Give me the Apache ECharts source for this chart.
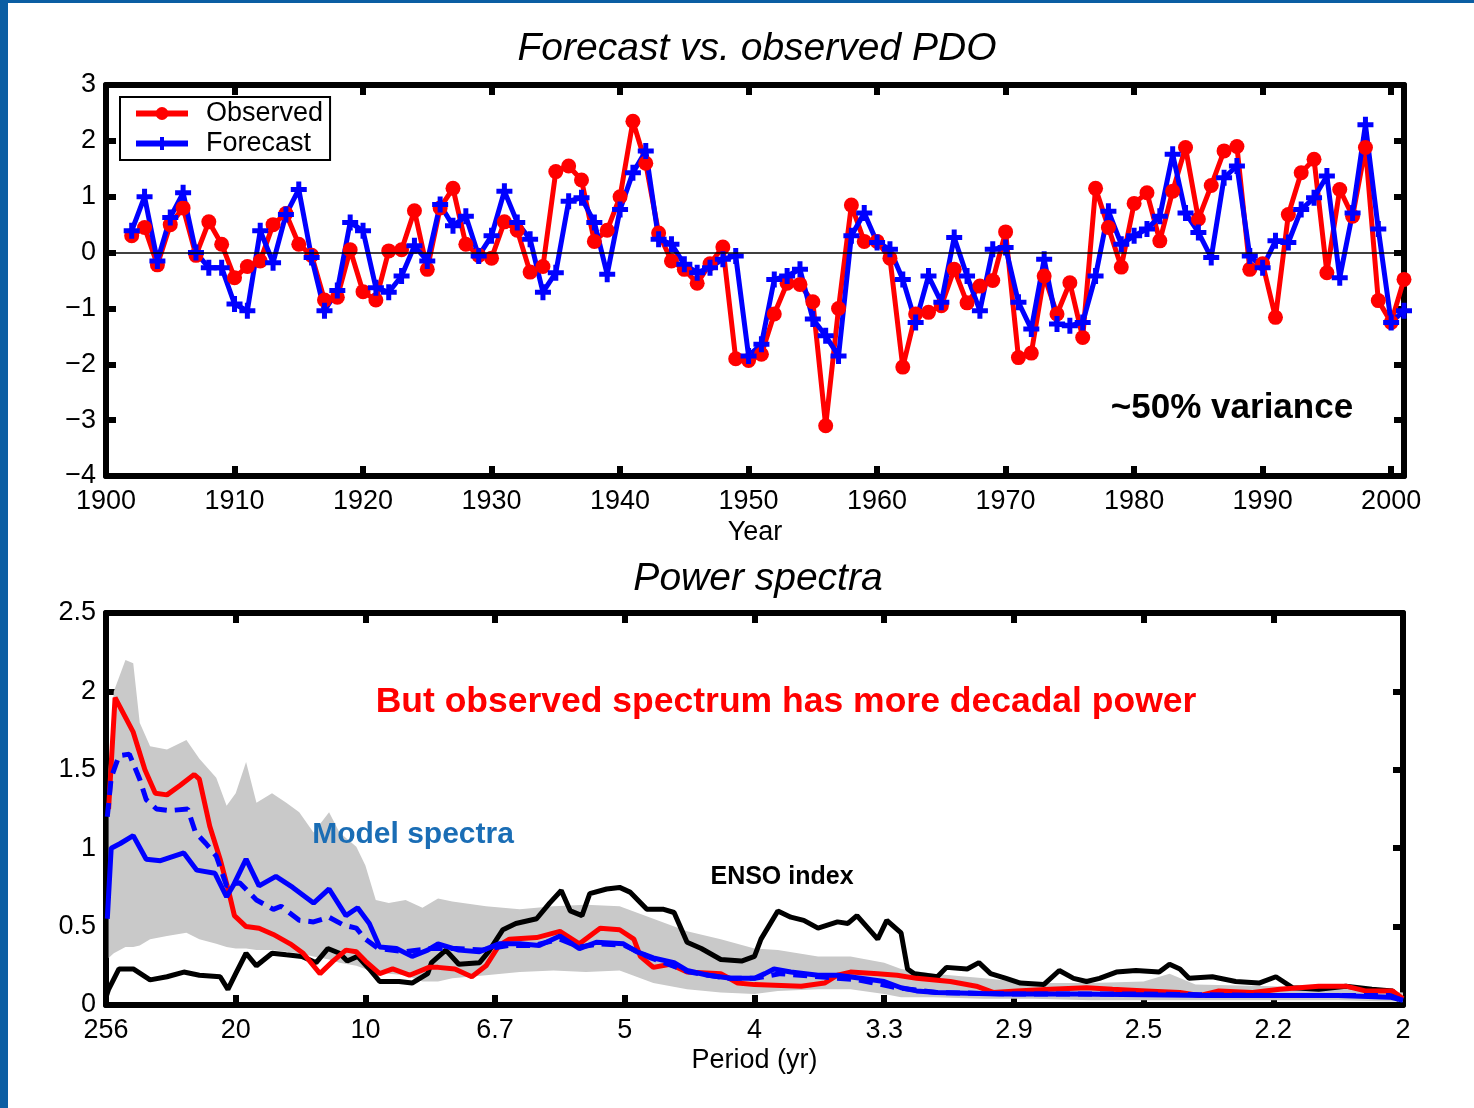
<!DOCTYPE html>
<html>
<head>
<meta charset="utf-8">
<script src="https://cdn.jsdelivr.net/npm/echarts@6/dist/echarts.min.js"></script>
<style>
html,body{margin:0;padding:0;background:#fff}
#main{width:1474px;height:1108px}
</style>
</head>
<body>
<div id="main"></div>
<script>
// ---- top panel: PDO index, 1902-2001 ----
var firstYear = 1902;
var observed = [0.30,0.45,-0.22,0.50,0.80,-0.05,0.55,0.15,-0.45,-0.25,
  -0.15,0.50,0.70,0.15,-0.05,-0.85,-0.80,0.05,-0.70,-0.85,
  0.03,0.05,0.75,-0.30,0.80,1.15,0.15,-0.05,-0.10,0.55,
  0.40,-0.35,-0.25,1.45,1.55,1.30,0.20,0.40,1.00,2.35,
  1.60,0.35,-0.15,-0.30,-0.55,-0.20,0.10,-1.90,-1.93,-1.82,
  -1.10,-0.55,-0.57,-0.88,-3.10,-1.00,0.85,0.20,0.20,-0.10,
  -2.05,-1.10,-1.07,-0.95,-0.30,-0.90,-0.60,-0.50,0.37,-1.88,
  -1.80,-0.42,-1.10,-0.54,-1.52,1.15,0.45,-0.26,0.88,1.07,
  0.21,1.10,1.88,0.60,1.20,1.82,1.90,-0.30,-0.20,-1.16,
  0.68,1.43,1.67,-0.36,1.13,0.65,1.88,-0.86,-1.25,-0.48];
var forecast = [0.39,1.00,-0.15,0.63,1.07,0.00,-0.27,-0.27,-0.92,-1.04,
  0.39,-0.18,0.68,1.13,-0.09,-1.04,-0.68,0.54,0.39,-0.63,
  -0.71,-0.42,0.12,-0.15,0.86,0.48,0.65,-0.06,0.30,1.10,
  0.54,0.24,-0.71,-0.36,0.92,0.98,0.54,-0.39,0.77,1.43,
  1.82,0.24,0.15,-0.21,-0.36,-0.27,-0.12,-0.06,-1.85,-1.64,
  -0.48,-0.42,-0.30,-1.19,-1.49,-1.85,0.30,0.71,0.18,0.06,
  -0.48,-1.25,-0.42,-0.89,0.27,-0.42,-1.04,0.06,0.09,-0.89,
  -1.37,-0.12,-1.28,-1.31,-1.25,-0.42,0.74,0.15,0.30,0.42,
  0.65,1.76,0.71,0.36,-0.09,1.34,1.55,-0.06,-0.27,0.21,
  0.18,0.77,0.98,1.37,-0.45,0.71,2.29,0.42,-1.25,-1.04];

// ---- bottom panel: power spectra, x in steps of 0.05 cycles/yr ----
var periodLabels = ['256','20','10','6.7','5','4','3.3','2.9','2.5','2.2','2'];

var specObserved = [[0.02,1.25],[0.07,1.96],[0.21,1.74],[0.30,1.50],[0.38,1.35],[0.47,1.34],[0.57,1.40],
  [0.68,1.47],[0.72,1.44],[0.80,1.14],[0.88,0.93],[0.95,0.71],[0.99,0.57],[1.08,0.50],[1.18,0.49],
  [1.29,0.45],[1.42,0.39],[1.52,0.33],[1.65,0.20],[1.75,0.28],[1.85,0.35],[1.93,0.34],[2.00,0.28],
  [2.11,0.20],[2.21,0.23],[2.34,0.19],[2.49,0.24],[2.56,0.24],[2.69,0.23],[2.82,0.18],[2.93,0.25],
  [3.03,0.38],[3.11,0.42],[3.32,0.43],[3.50,0.47],[3.65,0.39],[3.81,0.49],[3.96,0.48],[4.07,0.42],
  [4.12,0.31],[4.22,0.24],[4.35,0.26],[4.48,0.21],[4.74,0.20],[4.87,0.14],[5.00,0.13],[5.36,0.12],
  [5.54,0.14],[5.64,0.19],[5.74,0.21],[5.95,0.20],[6.10,0.19],[6.25,0.17],[6.51,0.15],[6.71,0.12],
  [6.84,0.08],[7.02,0.09],[7.28,0.10],[7.56,0.11],[7.76,0.10],[8.02,0.09],[8.28,0.08],[8.43,0.06],
  [8.58,0.09],[8.84,0.08],[9.05,0.10],[9.35,0.12],[9.56,0.12],[9.71,0.09],[9.92,0.09],[10.0,0.04]];

var specModel = [[0.01,0.55],[0.04,1.00],[0.11,1.03],[0.21,1.08],[0.31,0.93],[0.42,0.92],[0.60,0.97],
  [0.70,0.86],[0.84,0.84],[0.93,0.69],[0.98,0.76],[1.08,0.93],[1.18,0.76],[1.31,0.82],[1.44,0.75],
  [1.60,0.65],[1.72,0.74],[1.85,0.57],[1.94,0.62],[2.03,0.52],[2.11,0.37],[2.24,0.36],[2.36,0.31],
  [2.48,0.35],[2.56,0.39],[2.72,0.35],[2.88,0.34],[3.03,0.39],[3.19,0.39],[3.34,0.38],[3.50,0.44],
  [3.65,0.36],[3.78,0.40],[3.99,0.39],[4.09,0.34],[4.22,0.30],[4.38,0.27],[4.48,0.22],[4.64,0.19],
  [4.82,0.17],[5.00,0.17],[5.08,0.20],[5.15,0.23],[5.28,0.21],[5.49,0.19],[5.64,0.19],[5.82,0.17],
  [6.00,0.15],[6.13,0.11],[6.25,0.09],[6.41,0.08],[6.89,0.07],[7.50,0.07],[8.50,0.06],[9.50,0.06],
  [9.90,0.05],[10.0,0.03]];

var specModelDash = [[0.01,1.20],[0.04,1.45],[0.10,1.59],[0.18,1.60],[0.26,1.44],[0.31,1.31],[0.39,1.25],
  [0.49,1.24],[0.63,1.25],[0.69,1.10],[0.77,1.03],[0.85,0.95],[0.93,0.76],[1.03,0.78],[1.16,0.67],
  [1.29,0.61],[1.35,0.63],[1.49,0.54],[1.60,0.53],[1.72,0.56],[1.83,0.51],[1.93,0.49],[2.00,0.42],
  [2.10,0.36],[2.30,0.34],[2.50,0.36],[2.70,0.36],[2.90,0.35],[3.10,0.38],[3.30,0.38],[3.50,0.42],
  [3.65,0.37],[3.80,0.39],[4.00,0.38],[4.20,0.30],[4.50,0.21],[4.80,0.17],[5.00,0.17],[5.20,0.20],
  [5.50,0.18],[5.80,0.16],[6.10,0.11],[6.40,0.08],[7.00,0.07],[8.00,0.07],[9.00,0.06],[9.90,0.06],[10.0,0.03]];

var specEnso = [[0.00,0.05],[0.02,0.10],[0.10,0.23],[0.21,0.23],[0.34,0.16],[0.47,0.18],[0.60,0.21],
  [0.72,0.19],[0.88,0.18],[0.94,0.10],[1.00,0.20],[1.08,0.33],[1.16,0.25],[1.28,0.33],[1.39,0.32],
  [1.51,0.31],[1.62,0.27],[1.71,0.36],[1.80,0.33],[1.86,0.28],[1.94,0.31],[2.03,0.23],[2.11,0.15],
  [2.26,0.15],[2.36,0.14],[2.48,0.20],[2.51,0.27],[2.62,0.35],[2.72,0.26],[2.88,0.27],[2.95,0.34],
  [3.06,0.48],[3.16,0.52],[3.32,0.55],[3.42,0.65],[3.51,0.73],[3.58,0.60],[3.67,0.57],[3.73,0.71],
  [3.86,0.74],[3.96,0.75],[4.04,0.72],[4.17,0.61],[4.30,0.61],[4.38,0.59],[4.48,0.40],[4.59,0.36],
  [4.74,0.29],[4.90,0.28],[5.00,0.31],[5.05,0.42],[5.18,0.60],[5.28,0.56],[5.38,0.54],[5.49,0.49],
  [5.64,0.53],[5.72,0.52],[5.79,0.57],[5.95,0.42],[6.02,0.54],[6.13,0.46],[6.18,0.23],[6.23,0.20],
  [6.41,0.18],[6.48,0.24],[6.64,0.23],[6.73,0.27],[6.82,0.20],[6.94,0.17],[7.05,0.14],[7.23,0.13],
  [7.35,0.22],[7.46,0.17],[7.56,0.15],[7.66,0.17],[7.79,0.21],[7.94,0.22],[8.12,0.21],[8.20,0.26],
  [8.28,0.23],[8.35,0.17],[8.53,0.18],[8.71,0.15],[8.89,0.14],[9.02,0.18],[9.15,0.11],[9.35,0.10],
  [9.56,0.12],[9.76,0.10],[9.92,0.09],[9.97,0.03]];

// model spread (grey band)
var bandX  = [0.02,0.06,0.15,0.21,0.26,0.34,0.47,0.62,0.72,0.85,0.93,1.00,1.08,1.16,1.28,1.39,1.49,1.60,
  1.72,1.80,1.93,2.00,2.08,2.18,2.31,2.44,2.56,2.67,2.93,3.19,3.45,3.70,3.96,4.22,4.48,4.74,5.00,
  5.18,5.49,5.74,6.00,6.13,6.38,6.77,7.15,7.60,8.00,8.20,8.40,9.00,9.50,10.0];
var bandHi = [1.50,2.00,2.20,2.18,1.80,1.65,1.63,1.69,1.57,1.45,1.27,1.35,1.55,1.29,1.35,1.29,1.23,1.10,
  1.23,1.10,1.01,0.89,0.67,0.65,0.67,0.62,0.68,0.66,0.63,0.61,0.63,0.64,0.63,0.55,0.47,0.42,0.36,
  0.35,0.31,0.31,0.27,0.23,0.20,0.17,0.14,0.14,0.15,0.20,0.13,0.12,0.11,0.08];
var bandLo = [0.30,0.33,0.37,0.37,0.38,0.42,0.44,0.46,0.42,0.39,0.37,0.36,0.36,0.35,0.35,0.34,0.33,0.31,
  0.29,0.27,0.25,0.23,0.22,0.20,0.19,0.15,0.15,0.17,0.19,0.21,0.22,0.21,0.22,0.14,0.10,0.08,0.07,
  0.09,0.10,0.10,0.07,0.05,0.05,0.04,0.04,0.03,0.03,0.03,0.03,0.03,0.03,0.02];

var font = 'Liberation Sans, Arial, Helvetica, sans-serif';
var axisText = {fontFamily: font, fontSize: 27, color: '#000'};
var frameLine = {show: true, onZero: false, lineStyle: {color: '#000', width: 6}};
var frameTick = {show: true, inside: true, length: 10, lineStyle: {color: '#000', width: 6}};

function axis(extra) {
  var a = {type: 'value', axisLine: frameLine, axisTick: frameTick, splitLine: {show: false},
    axisLabel: {show: false}};
  for (var k in extra) a[k] = extra[k];
  return a;
}

var obsData = [], fcData = [];
for (var i = 0; i < observed.length; i++) {
  obsData.push([firstYear + i, observed[i]]);
  fcData.push([firstYear + i, forecast[i]]);
}

var plusPath = 'path://M5.5,0H10.5V5.5H16V10.5H10.5V16H5.5V10.5H0V5.5H5.5Z';

var myChart = echarts.init(document.getElementById('main'));
var option = {
  backgroundColor: '#fff',
  animation: false,
  grid: [
    {left: 106, top: 85, width: 1298, height: 391},
    {left: 106, top: 613, width: 1297, height: 392}
  ],
  legend: {
    data: ['Observed', 'Forecast'],
    orient: 'vertical', left: 120, top: 97,
    backgroundColor: '#fff', borderColor: '#000', borderWidth: 2,
    padding: [3, 7, 3, 13], itemWidth: 52, itemHeight: 16, itemGap: 3,
    lineStyle: {width: 6},
    textStyle: {fontFamily: font, fontSize: 27, color: '#000', padding: [0, 0, 0, 13]}
  },
  xAxis: [
    axis({gridIndex: 0, min: 1900, max: 2001, interval: 10, position: 'bottom',
      axisLabel: {show: true, margin: 12, fontFamily: font, fontSize: 27, color: '#000',
        formatter: function (v) { return v % 10 === 0 ? String(v) : ''; }},
      name: 'Year', nameLocation: 'middle', nameGap: 43, nameTextStyle: axisText}),
    axis({gridIndex: 0, min: 1900, max: 2001, interval: 10, position: 'top'}),
    axis({gridIndex: 1, min: 0, max: 10, interval: 1, position: 'bottom',
      axisLabel: {show: true, margin: 12, fontFamily: font, fontSize: 27, color: '#000',
        formatter: function (v) { return periodLabels[Math.round(v)]; }},
      name: 'Period (yr)', nameLocation: 'middle', nameGap: 42, nameTextStyle: axisText}),
    axis({gridIndex: 1, min: 0, max: 10, interval: 1, position: 'top'})
  ],
  yAxis: [
    axis({gridIndex: 0, min: -4, max: 3, interval: 1, position: 'left',
      axisLabel: {show: true, margin: 10, fontFamily: font, fontSize: 27, color: '#000',
        formatter: function (v) { return v < 0 ? '\u2212' + (-v) : String(v); }}}),
    axis({gridIndex: 0, min: -4, max: 3, interval: 1, position: 'right'}),
    axis({gridIndex: 1, min: 0, max: 2.5, interval: 0.5, position: 'left',
      axisLabel: {show: true, margin: 10, fontFamily: font, fontSize: 27, color: '#000'}}),
    axis({gridIndex: 1, min: 0, max: 2.5, interval: 0.5, position: 'right'})
  ],
  series: [
    {
      name: 'Observed', type: 'line', xAxisIndex: 0, yAxisIndex: 0, data: obsData,
      symbol: 'circle', symbolSize: 15, color: '#ff0000',
      lineStyle: {color: '#ff0000', width: 5}, itemStyle: {color: '#ff0000'},
      markLine: {silent: true, symbol: 'none', label: {show: false},
        lineStyle: {color: '#000', width: 1.5, type: 'solid'}, data: [{yAxis: 0}]}
    },
    {
      name: 'Forecast', type: 'line', xAxisIndex: 0, yAxisIndex: 0, data: fcData,
      symbol: plusPath, symbolSize: 16, color: '#0000ff',
      lineStyle: {color: '#0000ff', width: 5}, itemStyle: {color: '#0000ff'}
    },
    {
      name: 'band', type: 'custom', xAxisIndex: 2, yAxisIndex: 2, silent: true, z: 1,
      data: [[0, 0]],
      renderItem: function (params, api) {
        var pts = [], j;
        for (j = 0; j < bandX.length; j++) pts.push(api.coord([bandX[j], bandHi[j]]));
        for (j = bandX.length - 1; j >= 0; j--) pts.push(api.coord([bandX[j], bandLo[j]]));
        return {type: 'polygon', shape: {points: pts}, style: {fill: '#c9c9c9'}};
      }
    },
    {name: 'ENSO', type: 'line', xAxisIndex: 2, yAxisIndex: 2, data: specEnso, showSymbol: false,
      lineStyle: {color: '#000', width: 5}},
    {name: 'Obs spectrum', type: 'line', xAxisIndex: 2, yAxisIndex: 2, data: specObserved, showSymbol: false,
      lineStyle: {color: '#ff0000', width: 5}},
    {name: 'Model dashed', type: 'line', xAxisIndex: 2, yAxisIndex: 2, data: specModelDash, showSymbol: false,
      lineStyle: {color: '#0000ff', width: 5, type: [14, 8]}},
    {name: 'Model', type: 'line', xAxisIndex: 2, yAxisIndex: 2, data: specModel, showSymbol: false,
      lineStyle: {color: '#0000ff', width: 5}}
  ],
  graphic: [
    {type: 'rect', z: 100, shape: {x: 0, y: 0, width: 8, height: 1108}, style: {fill: '#0b5ea3'}},
    {type: 'rect', z: 100, shape: {x: 0, y: 0, width: 1474, height: 3}, style: {fill: '#0b5ea3'}},
    {type: 'text', z: 100, x: 757, y: 49, style: {text: 'Forecast vs. observed PDO', font: 'italic 39px ' + font,
      fill: '#000', align: 'center', verticalAlign: 'middle'}},
    {type: 'text', z: 100, x: 758, y: 579, style: {text: 'Power spectra', font: 'italic 39px ' + font,
      fill: '#000', align: 'center', verticalAlign: 'middle'}},
    {type: 'text', z: 100, x: 1232, y: 408, style: {text: '~50% variance', font: 'bold 35px ' + font,
      fill: '#000', align: 'center', verticalAlign: 'middle'}},
    {type: 'text', z: 100, x: 786, y: 702, style: {text: 'But observed spectrum has more decadal power',
      font: 'bold 35.5px ' + font, fill: '#ff0000', align: 'center', verticalAlign: 'middle'}},
    {type: 'text', z: 100, x: 413, y: 835, style: {text: 'Model spectra', font: 'bold 30px ' + font,
      fill: '#1a6db5', align: 'center', verticalAlign: 'middle'}},
    {type: 'text', z: 100, x: 782, y: 877, style: {text: 'ENSO index', font: 'bold 25px ' + font,
      fill: '#000', align: 'center', verticalAlign: 'middle'}}
  ]
};
myChart.setOption(option);
</script>
</body>
</html>
